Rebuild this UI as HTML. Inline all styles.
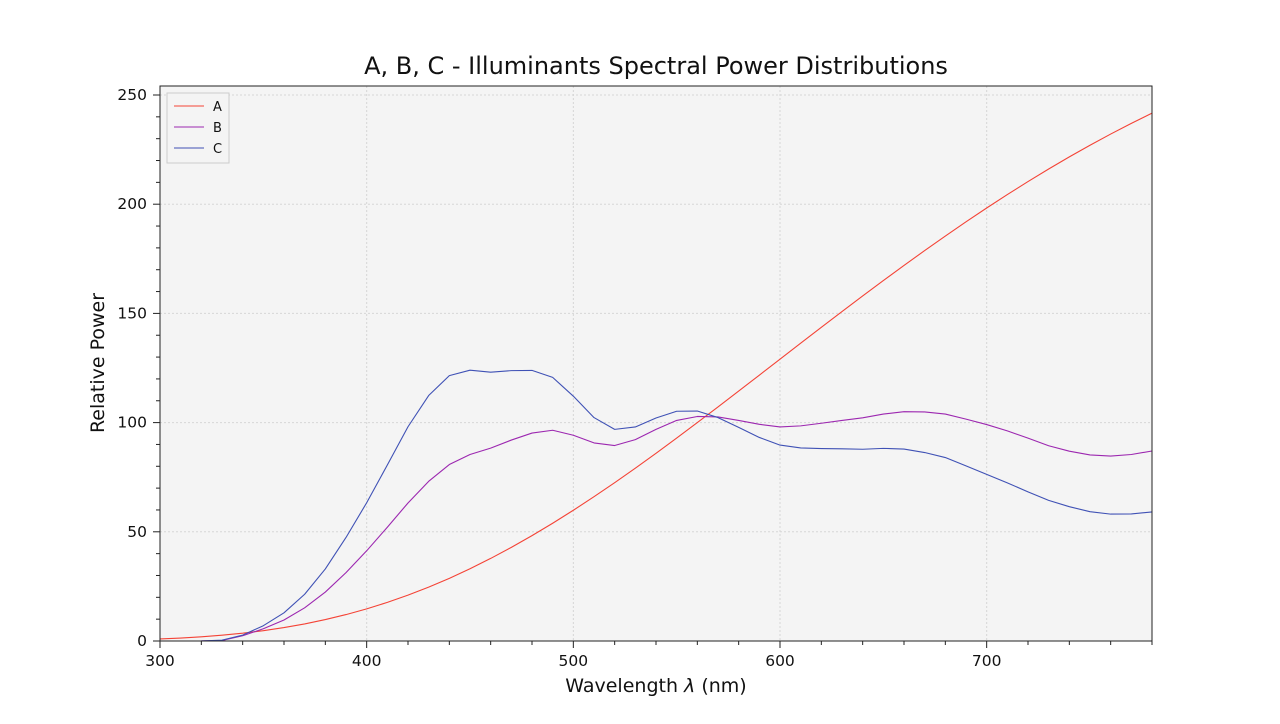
<!DOCTYPE html>
<html><head><meta charset="utf-8"><style>
body{margin:0;background:#fff;font-family:"DejaVu Sans","Liberation Sans",sans-serif;}
svg text{font-family:"DejaVu Sans","Liberation Sans",sans-serif;}
</style></head><body>
<svg id="chart" width="1280" height="720" xmlns="http://www.w3.org/2000/svg">
<rect width="1280" height="720" fill="#fff"/>
<text x="656" y="74" text-anchor="middle" font-size="24" fill="#111">A, B, C - Illuminants Spectral Power Distributions</text>
<rect x="160" y="86" width="992" height="555" fill="#f4f4f4"/>
<g id="grid"></g><g id="series"></g>
<rect x="160" y="86" width="992" height="555" fill="none" stroke="#222" stroke-width="1"/>
<g id="axes"></g>
<text x="656" y="692" text-anchor="middle" font-size="19" fill="#111">Wavelength <tspan font-style="italic">λ</tspan> (nm)</text>
<text transform="translate(104,363) rotate(-90)" text-anchor="middle" font-size="19" fill="#111">Relative Power</text>
<g>
<rect x="167" y="93" width="62" height="70" fill="#f4f4f4" stroke="#ccc"/>
<line x1="174" y1="106" x2="204" y2="106" stroke="#f44336"/><text x="213" y="111" font-size="13" fill="#111">A</text>
<line x1="174" y1="127" x2="204" y2="127" stroke="#9c27b0"/><text x="213" y="132" font-size="13" fill="#111">B</text>
<line x1="174" y1="148" x2="204" y2="148" stroke="#3f51b5"/><text x="213" y="153" font-size="13" fill="#111">C</text>
</g>
</svg>
<script>
const wavelengths=[300,310,320,330,340,350,360,370,380,390,400,410,420,430,440,450,460,470,480,490,500,510,520,530,540,550,560,570,580,590,600,610,620,630,640,650,660,670,680,690,700,710,720,730,740,750,760,770,780];
const seriesA=[0.93,1.36,1.93,2.66,3.59,4.74,6.14,7.82,9.80,12.09,14.71,17.68,20.99,24.67,28.70,33.09,37.81,42.87,48.24,53.91,59.86,66.06,72.50,79.13,85.95,92.91,100,107.18,114.44,121.73,129.04,136.35,143.62,150.84,157.98,165.03,171.96,178.77,185.43,191.93,198.26,204.41,210.36,216.12,221.67,227.00,232.12,237.01,241.68];
const seriesB=[0,0,0.02,0.26,2.4,5.6,9.6,15.2,22.4,31.3,41.3,52.1,63.2,73.1,80.8,85.4,88.3,92.0,95.2,96.5,94.2,90.7,89.5,92.2,96.9,101.0,102.8,102.6,101.0,99.2,98.0,98.5,99.7,101.0,102.2,103.9,105.0,104.9,103.9,101.6,99.1,96.2,92.9,89.4,86.9,85.2,84.7,85.4,87.0];
const seriesC=[0,0,0.01,0.4,2.7,7.0,12.9,21.4,33.0,47.4,63.3,80.6,98.1,112.4,121.5,124.0,123.1,123.8,123.9,120.7,112.1,102.3,96.9,98.0,102.1,105.2,105.3,102.3,97.8,93.2,89.7,88.4,88.1,88.0,87.8,88.2,87.9,86.3,84.0,80.2,76.3,72.4,68.3,64.4,61.5,59.2,58.1,58.2,59.1];
const xTicks=[300,400,500,600,700];
const yTicks=[0,50,100,150,200,250];
const X=v=>160+(v-300)*992/480;
const Y=v=>641-v*2.184;
const NS="http://www.w3.org/2000/svg";
function mk(tag,attrs,parent){const e=document.createElementNS(NS,tag);for(const k in attrs)e.setAttribute(k,attrs[k]);parent.appendChild(e);return e;}
const grid=document.getElementById('grid'),axes=document.getElementById('axes'),ser=document.getElementById('series');
xTicks.forEach(t=>{
 const g=mk('line',{x1:X(t),x2:X(t),y1:86,y2:641,stroke:'#d6d6d6','stroke-dasharray':'2,2'},grid);
 
 
 mk('line',{x1:X(t),x2:X(t),y1:641,y2:648,stroke:'#222'},axes);
 const tx=mk('text',{x:X(t),y:666,'text-anchor':'middle','font-size':'15.5',fill:'#111'},axes);tx.textContent=t;
 
 
});
for(let t=320;t<=780;t+=20){if(t%100)mk('line',{x1:X(t),x2:X(t),y1:641,y2:645,stroke:'#222'},axes);}
yTicks.forEach(t=>{
 const g=mk('line',{x1:160,x2:1152,y1:Y(t),y2:Y(t),stroke:'#d6d6d6','stroke-dasharray':'2,2'},grid);
 
 
 mk('line',{x1:153,x2:160,y1:Y(t),y2:Y(t),stroke:'#222'},axes);
 const tx=mk('text',{x:147,y:Y(t)+5,'text-anchor':'end','font-size':'15.5',fill:'#111'},axes);tx.textContent=t;
 
 
});
for(let t=10;t<=250;t+=10){if(t%50)mk('line',{x1:156,x2:160,y1:Y(t),y2:Y(t),stroke:'#222'},axes);}
[[seriesA,'#f44336','series-a-line'],[seriesB,'#9c27b0','series-b-line'],[seriesC,'#3f51b5','series-c-line']].forEach(([d,c,n])=>{
 const p=mk('polyline',{points:d.map((v,i)=>X(wavelengths[i])+','+Y(v)).join(' '),fill:'none',stroke:c,'stroke-width':'1.1','stroke-linejoin':'round'},ser);
 
 
});
</script>
</body></html>
